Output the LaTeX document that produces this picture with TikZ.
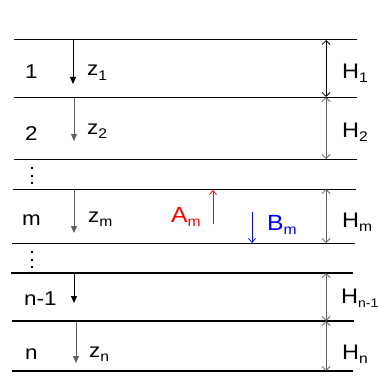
\documentclass[tikz,border=0pt]{standalone}
\usepackage{fontspec}
\setmainfont{Liberation Sans}[FakeStretch=1.12]
\usetikzlibrary{arrows.meta}
\newcommand{\sbs}[1]{\raisebox{-4.5pt}{\fontsize{14}{15}\selectfont #1}}
\newcommand{\sbsn}[1]{\raisebox{-4.5pt}{\fontsize{12.5}{14}\selectfont #1}}
\colorlet{lgray}{black!62}
\tikzset{
 layerline/.style={line width=1pt},
 thickline/.style={line width=1.7pt},
 zarrow/.style={-{Triangle[length=7pt,width=6pt]}, line width=0.9pt},
 harrow/.style={{Straight Barb[length=4pt,width=8pt]}-{Straight Barb[length=4pt,width=8pt]}, line width=0.8pt},
 thinarrow/.style={-{Straight Barb[length=4pt,width=7pt]}, line width=0.8pt},
 lbl/.style={anchor=base west, inner sep=0pt, font=\fontsize{20}{22}\selectfont},
 hlbl/.style={anchor=base west, inner sep=0pt, font=\fontsize{21}{23}\selectfont},
 ablbl/.style={anchor=base west, inner sep=0pt, font=\fontsize{22}{24}\selectfont},
 dotmark/.style={fill=black},
}
\begin{document}
\begin{tikzpicture}[x=1pt,y=-1pt]
\useasboundingbox (0,0) rectangle (379,377);
% layer boundaries
\draw[layerline] (14,40) -- (357,40);
\draw[layerline] (14,97) -- (357,97);
\draw[layerline] (14,159) -- (357,159);
\draw[layerline] (13,189) -- (356,189);
\draw[layerline] (12,243) -- (355,243);
\draw[thickline] (11,273) -- (353,273);
\draw[thickline] (12,321) -- (354,321);
\draw[thickline] (12,371) -- (353,371);
% vertical ellipses
\foreach \y in {168,175.5,183,252,259.5,267} \fill[dotmark] (30.8,\y-1) rectangle ++(2.2,2.2);
% layer labels
\node[lbl] (l1) at (25,78) {1};
\node[lbl] (l2) at (25,140) {2};
\node[lbl] (lm) at (22,225) {m};
\node[lbl] (ln1) at (24,305) {n-1};
\node[lbl] (ln) at (25,359) {n};
% z arrows
\draw[zarrow] (73,40) -- (73,84);
\draw[zarrow,lgray] (74,98) -- (74,141);
\draw[zarrow,lgray] (74,189) -- (74,233);
\draw[zarrow] (74,273) -- (74,303);
\draw[zarrow,lgray] (76,322) -- (76,363);
\node[lbl] (z1) at (87,76) {z\sbs{1}};
\node[lbl] (z2) at (87,134) {z\sbs{2}};
\node[lbl] (zm) at (88,222) {z\sbs{m}};
\node[lbl] (zn) at (89,357) {z\sbs{n}};
% A_m and B_m
\draw[thinarrow,red] (213,224) -- (213,190);
\node[ablbl,text=red] (am) at (171,222) {A\sbs{m}};
\draw[thinarrow,blue] (252,212) -- (252,243);
\node[ablbl,text=blue] (bm) at (267,230) {B\sbs{m}};
% thickness arrows
\draw[harrow] (326,40) -- (326,97);
\draw[harrow,lgray] (326,97) -- (326,159);
\draw[harrow,lgray] (326,189) -- (326,243);
\draw[harrow,lgray] (326,273) -- (326,321);
\draw[harrow,lgray] (326,321) -- (326,371);
\node[hlbl] (h1) at (342,78) {H\sbs{1}};
\node[hlbl] (h2) at (342,137) {H\sbs{2}};
\node[hlbl] (hm) at (342,227) {H\sbs{m}};
\node[hlbl] (hn1) at (341,303) {H\sbsn{n-1}};
\node[hlbl] (hn) at (342,359) {H\sbs{n}};
\end{tikzpicture}
\end{document}
